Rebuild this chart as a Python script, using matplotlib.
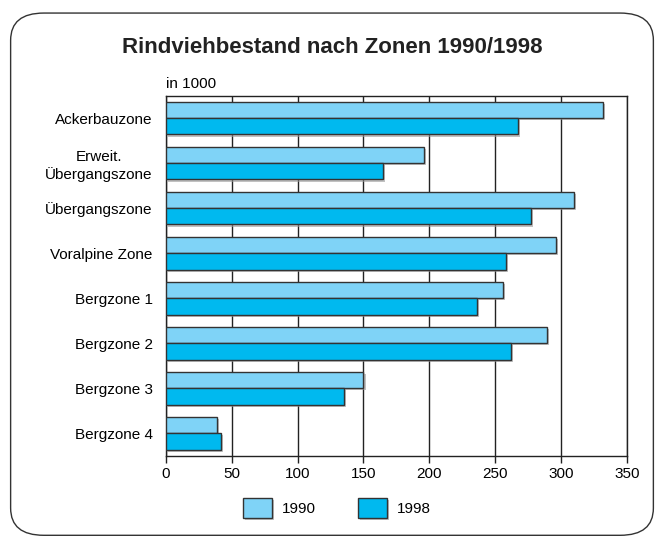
import matplotlib.pyplot as plt
import matplotlib.patheffects as pe
from matplotlib.patches import FancyBboxPatch
import numpy as np

plt.rcParams['font.family'] = ['Liberation Sans', 'DejaVu Sans']

zones = ["Ackerbauzone", "Erweit.\nÜbergangszone", "Übergangszone", "Voralpine Zone",
         "Bergzone 1", "Bergzone 2", "Bergzone 3", "Bergzone 4"]
v1990 = [332, 196, 310, 296, 256, 289, 150, 39]
v1998 = [267, 165, 277, 258, 236, 262, 135, 42]
xticks = [0, 50, 100, 150, 200, 250, 300, 350]

c1990 = "#7fd3f7"
c1998 = "#00b9ef"
edge = "#333333"

fig = plt.figure(figsize=(6.64, 5.44), dpi=100)

# rounded frame around the whole chart
frame = FancyBboxPatch((0.016, 0.016), 0.968, 0.96, boxstyle="round,pad=0,rounding_size=0.05",
                       transform=fig.transFigure, facecolor="white", edgecolor="#333333",
                       linewidth=1.0, zorder=0)
fig.add_artist(frame)

ax = fig.add_axes([0.25, 0.162, 0.694, 0.662])
ax.set_facecolor("white")

y = np.arange(len(zones))
h = 0.36
shadow = [pe.SimplePatchShadow(offset=(1.5, -1.5), shadow_rgbFace="#999999", alpha=0.6), pe.Normal()]
b1 = ax.barh(y - h / 2, v1990, height=h, color=c1990, edgecolor=edge, linewidth=1.0,
             label="1990", zorder=3)
b2 = ax.barh(y + h / 2, v1998, height=h, color=c1998, edgecolor=edge, linewidth=1.0,
             label="1998", zorder=3)
for bar in list(b1) + list(b2):
    bar.set_path_effects(shadow)

ax.set_xlim(0, 350)
ax.set_ylim(len(zones) - 0.5, -0.5)
ax.set_xticks(xticks)
ax.set_yticks(y)
ax.set_yticklabels(zones, multialignment="center")
ax.tick_params(axis="y", length=0, pad=9.5, labelsize=11)
ax.tick_params(axis="x", length=5, width=1, color="#222222", labelsize=11, pad=3)
ax.xaxis.grid(True, color="#222222", linewidth=1.0, zorder=1)
ax.set_axisbelow(True)
for s in ax.spines.values():
    s.set_color("#222222")
    s.set_linewidth(1.0)

ax.text(0, 1.012, "in 1000", transform=ax.transAxes, ha="left", va="bottom", fontsize=11)

fig.text(0.5, 0.913, "Rindviehbestand nach Zonen 1990/1998", ha="center", va="center",
         fontsize=16, fontweight="bold", color="#222222")

fig.legend(handles=[b1, b2], labels=["1990", "1998"], ncol=2, loc="center",
           bbox_to_anchor=(0.507, 0.066), frameon=False, fontsize=11,
           handlelength=1.9, handleheight=1.6, columnspacing=2.75, handletextpad=0.65)

fig.savefig("out.png", dpi=100)
